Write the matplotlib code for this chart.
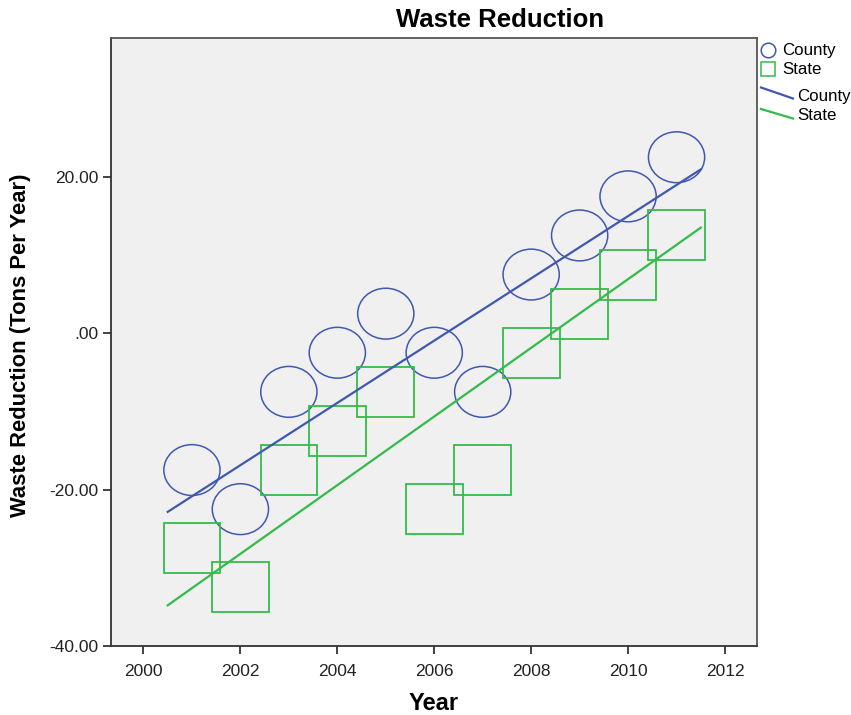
import matplotlib
matplotlib.use("Agg")
import matplotlib.pyplot as plt
from matplotlib.patches import Ellipse, Rectangle
from matplotlib.lines import Line2D
from matplotlib.ticker import FuncFormatter

plt.rcParams['font.family'] = ['Liberation Sans', 'DejaVu Sans']

# data
years = [2001, 2002, 2003, 2004, 2005, 2006, 2007, 2008, 2009, 2010, 2011]
county = [-17.5, -22.5, -7.5, -2.5, 2.5, -2.5, -7.5, 7.5, 12.5, 17.5, 22.5]
state = [-27.5, -32.5, -17.5, -12.5, -7.5, -22.5, -17.5, -2.5, 2.5, 7.5, 12.5]
fit_years = [2000.5, 2011.5]
county_fit = [-22.85, 20.95]
state_fit = [-34.8, 13.5]
x_ticks = [2000, 2002, 2004, 2006, 2008, 2010, 2012]
y_ticks = [-40, -20, 0, 20]

blue = '#4058B0'
green = '#33BB4A'
W, H = 851, 715

fig = plt.figure(figsize=(W / 100, H / 100), dpi=100)
ax = fig.add_axes([111 / W, 1 - 646 / H, (757 - 111) / W, (646 - 38) / H])
ax.set_facecolor('#F0F0F0')

# markers are drawn as patches in data units (they are wider than tall)
for x, y in zip(years, county):
    ax.add_patch(Ellipse((x, y), 1.16, 6.5, fill=False, edgecolor=blue, lw=1.1))
for x, y in zip(years, state):
    ax.add_patch(Rectangle((x - 0.585, y - 3.2), 1.17, 6.4, fill=False, edgecolor=green, lw=1.3))

ax.plot(fit_years, county_fit, color=blue, lw=1.6)
ax.plot(fit_years, state_fit, color=green, lw=1.6)

ax.set_xlim(1999.33, 2012.66)
ax.set_ylim(-40, 37.75)
ax.set_xticks(x_ticks)
ax.set_yticks(y_ticks)
ax.yaxis.set_major_formatter(FuncFormatter(lambda v, p: ".00" if v == 0 else "%.2f" % v))
ax.tick_params(direction='out', length=6, width=1.2, labelsize=12.5, colors='#222222', pad=3)
ax.tick_params(axis='x', pad=7)
for s in ax.spines.values():
    s.set_color('#333333')
    s.set_linewidth(1.3)
ax.spines['top'].set_color('#555555')
ax.spines['right'].set_color('#555555')

fig.text(500 / W, 1 - 20 / H, 'Waste Reduction', ha='center', va='center',
         fontsize=18.5, fontweight='bold')
fig.text(21 / W, 1 - 345 / H, 'Waste Reduction (Tons Per Year)', ha='center', va='center',
         rotation=90, fontsize=15.8, fontweight='bold')
fig.text(434 / W, 1 - 703 / H, 'Year', ha='center', va='center', fontsize=17, fontweight='bold')

# legend
def fx(px):
    return px / W

def fy(py):
    return 1 - py / H

fig.add_artist(Line2D([fx(768)], [fy(50)], marker='o', markersize=10.5, fillstyle='none',
                      markeredgecolor=blue, markeredgewidth=1.1, transform=fig.transFigure))
fig.add_artist(Line2D([fx(768)], [fy(69)], marker='s', markersize=10.5, fillstyle='none',
                      markeredgecolor=green, markeredgewidth=1.1, transform=fig.transFigure))
fig.text(fx(782), fy(50), 'County', va='center', ha='left', fontsize=12.2)
fig.text(fx(782), fy(69), 'State', va='center', ha='left', fontsize=12.2)
fig.add_artist(Line2D([fx(761), fx(793)], [fy(87.5), fy(98.5)], color=blue, lw=1.6,
                      transform=fig.transFigure))
fig.add_artist(Line2D([fx(761), fx(793)], [fy(109), fy(118.5)], color=green, lw=1.6,
                      transform=fig.transFigure))
fig.text(fx(797), fy(96.5), 'County', va='center', ha='left', fontsize=12.2)
fig.text(fx(797), fy(115.5), 'State', va='center', ha='left', fontsize=12.2)

fig.savefig('out.png', dpi=100)
